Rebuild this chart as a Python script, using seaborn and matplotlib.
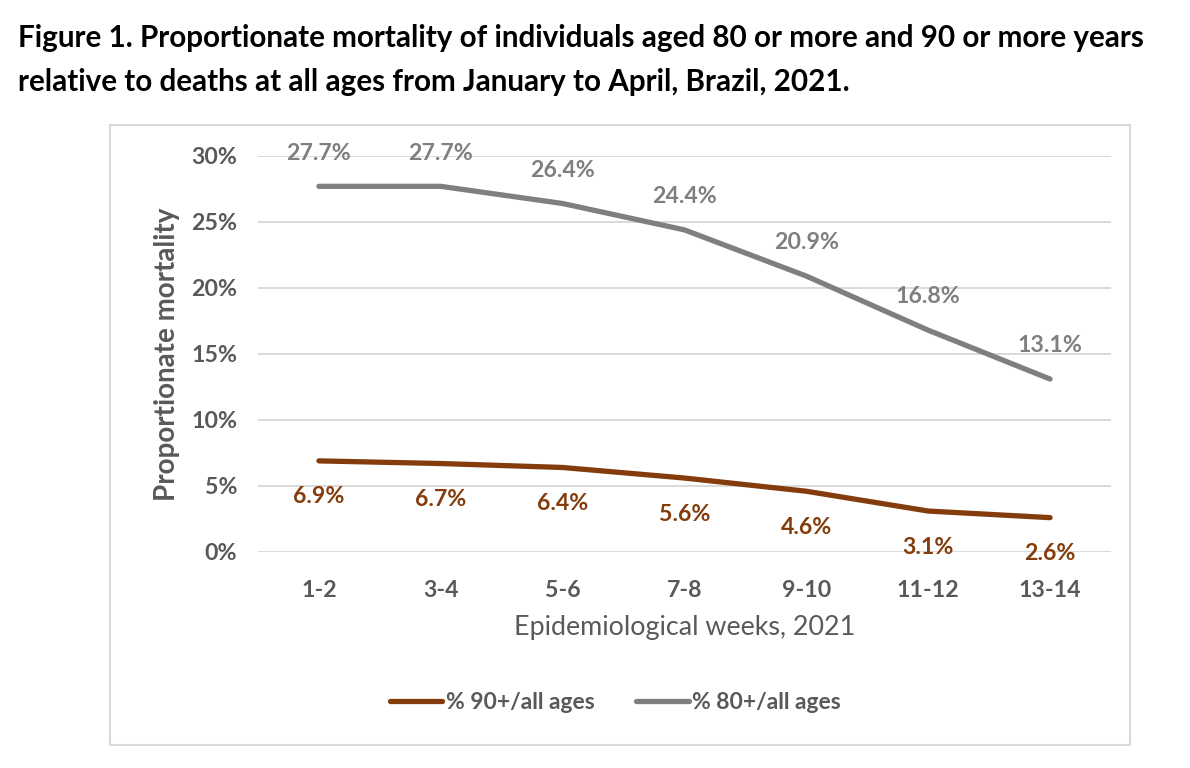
import pandas as pd
import matplotlib.pyplot as plt
import seaborn as sns
from matplotlib.patches import Rectangle

# data
weeks = ["1-2", "3-4", "5-6", "7-8", "9-10", "11-12", "13-14"]
pct_90 = [6.9, 6.7, 6.4, 5.6, 4.6, 3.1, 2.6]
pct_80 = [27.7, 27.7, 26.4, 24.4, 20.9, 16.8, 13.1]
series_names = ["% 90+/all ages", "% 80+/all ages"]

BROWN = "#843C0C"
GRAY = "#7F7F7F"
TEXT = "#595959"

df = pd.DataFrame({
    "week": weeks * 2,
    "value": pct_90 + pct_80,
    "series": [series_names[0]] * len(weeks) + [series_names[1]] * len(weeks),
})

sns.set_theme(style="white")
plt.rcParams["font.family"] = ["Lato", "DejaVu Sans"]

fig = plt.figure(figsize=(11.9, 7.68), dpi=100)
ax = fig.add_axes([0.2168, 0.2813, 0.7168, 0.5156])

sns.lineplot(
    data=df, x="week", y="value", hue="series", sort=False,
    palette={series_names[0]: BROWN, series_names[1]: GRAY},
    linewidth=3.8, ax=ax, legend=False,
)
for line in ax.lines:
    line.set_solid_capstyle("round")
    line.set_solid_joinstyle("round")

ax.set_xlim(-0.5, len(weeks) - 0.5)
ax.set_ylim(0, 30)
ax.set_yticks(range(0, 31, 5))
ax.set_yticklabels([f"{v}%" for v in range(0, 31, 5)])
ax.yaxis.grid(True, color="#D9D9D9", linewidth=1.4)
ax.set_axisbelow(True)
for s in ax.spines.values():
    s.set_visible(False)
ax.tick_params(axis="both", length=0, labelsize=16.7, labelcolor=TEXT)
ax.tick_params(axis="x", pad=20)
ax.tick_params(axis="y", pad=15)
for lbl in ax.get_xticklabels() + ax.get_yticklabels():
    lbl.set_fontweight("bold")

# data labels
for i, v in enumerate(pct_80):
    ax.annotate(f"{v}%", (i, v), xytext=(0, 24), textcoords="offset points",
                ha="center", va="center", fontsize=16.7, fontweight="bold", color=GRAY)
for i, v in enumerate(pct_90):
    ax.annotate(f"{v}%", (i, v), xytext=(0, -26), textcoords="offset points",
                ha="center", va="center", fontsize=16.7, fontweight="bold", color=BROWN)

ax.set_xlabel("Epidemiological weeks, 2021", fontsize=19.4, color=TEXT, labelpad=10)
ax.set_ylabel("Proportionate mortality", fontsize=20, fontweight="bold", color=TEXT, labelpad=8)

# legend
handles = [plt.Line2D([], [], color=BROWN, linewidth=3.8, solid_capstyle="round"),
           plt.Line2D([], [], color=GRAY, linewidth=3.8, solid_capstyle="round")]
leg = fig.legend(handles, series_names, loc="center", bbox_to_anchor=(0.517, 0.085),
                 ncol=2, frameon=False, fontsize=16.5, handlelength=2.3,
                 handletextpad=0.15, columnspacing=1.8)
for t in leg.get_texts():
    t.set_color(TEXT)
    t.set_fontweight("bold")

# chart area border
fig.patches.append(Rectangle((0.0924, 0.030), 0.857, 0.807, transform=fig.transFigure,
                             fill=False, edgecolor="#D9D9D9", linewidth=1.5))

fig.text(0.015, 0.951, "Figure 1. Proportionate mortality of individuals aged 80 or more and 90 or more years",
         fontsize=21.3, fontweight="bold", color="black", va="center", ha="left")
fig.text(0.015, 0.893, "relative to deaths at all ages from January to April, Brazil, 2021.",
         fontsize=21.3, fontweight="bold", color="black", va="center", ha="left")

fig.savefig("out.png", dpi=100)
